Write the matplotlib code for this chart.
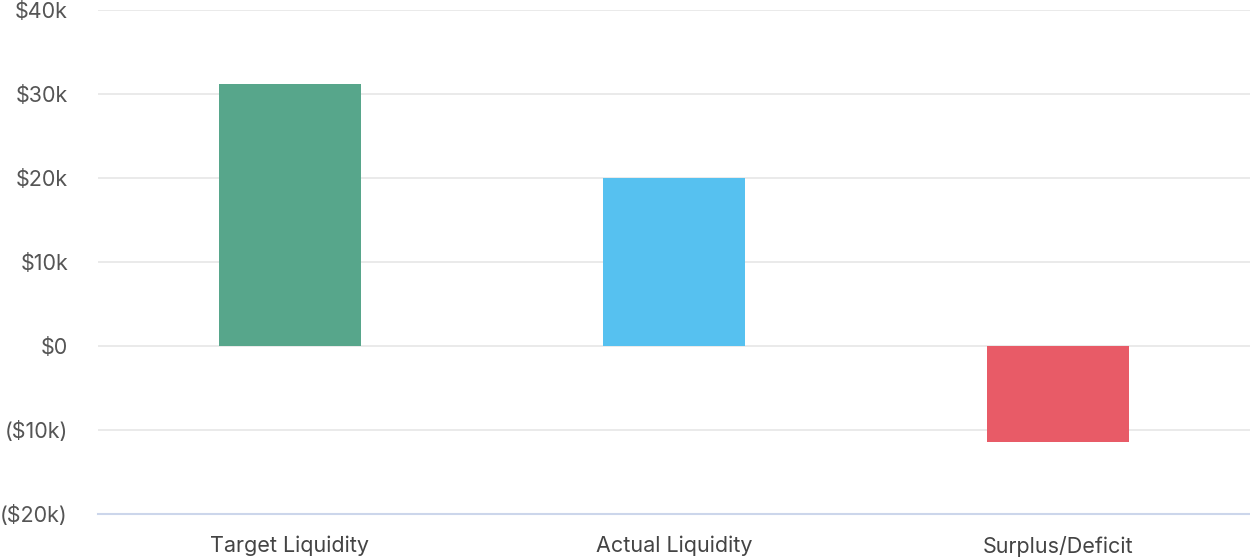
import matplotlib
matplotlib.use("Agg")
import matplotlib.pyplot as plt
from matplotlib.ticker import FuncFormatter

categories = ["Target Liquidity", "Actual Liquidity", "Surplus/Deficit"]
values = [31150, 20000, -11450]
colors = ["#57A68B", "#56C1F0", "#E85B67"]
y_ticks = [-20000, -10000, 0, 10000, 20000, 30000, 40000]

plt.rcParams["font.family"] = ["Inter", "DejaVu Sans"]

W, H = 1250, 558
fig = plt.figure(figsize=(W / 100, H / 100), dpi=100)
top_px, bot_px = 9.7, 513.7
ax = fig.add_axes([98 / W, 1 - bot_px / H, 1 - 98 / W, (bot_px - top_px) / H])

x = range(len(categories))
ax.bar(x, values, width=142 / 384, color=colors, zorder=3)

ax.set_xlim(-0.5, len(categories) - 0.5)
ax.set_ylim(-20000, 40000)
ax.set_yticks(y_ticks)


def money(v, _pos):
    k = int(round(v / 1000))
    if k == 0:
        return "$0"
    if k < 0:
        return f"(${-k}k)"
    return f"${k}k"


ax.yaxis.set_major_formatter(FuncFormatter(money))
ax.set_xticks(list(x))
ax.set_xticklabels(categories)

ax.grid(axis="y", color="#e6e6e6", linewidth=1.2, zorder=0)
for side in ["top", "right", "left"]:
    ax.spines[side].set_visible(False)
ax.spines["bottom"].set_color("#ccd6eb")
ax.spines["bottom"].set_linewidth(1.5)
ax.spines["bottom"].set_zorder(4)

ax.tick_params(axis="y", length=0, pad=21.6, labelsize=15.5, labelcolor="#555555")
ax.tick_params(axis="x", length=0, pad=16, labelsize=15.5, labelcolor="#444444")

fig.savefig("out.png", dpi=100)
